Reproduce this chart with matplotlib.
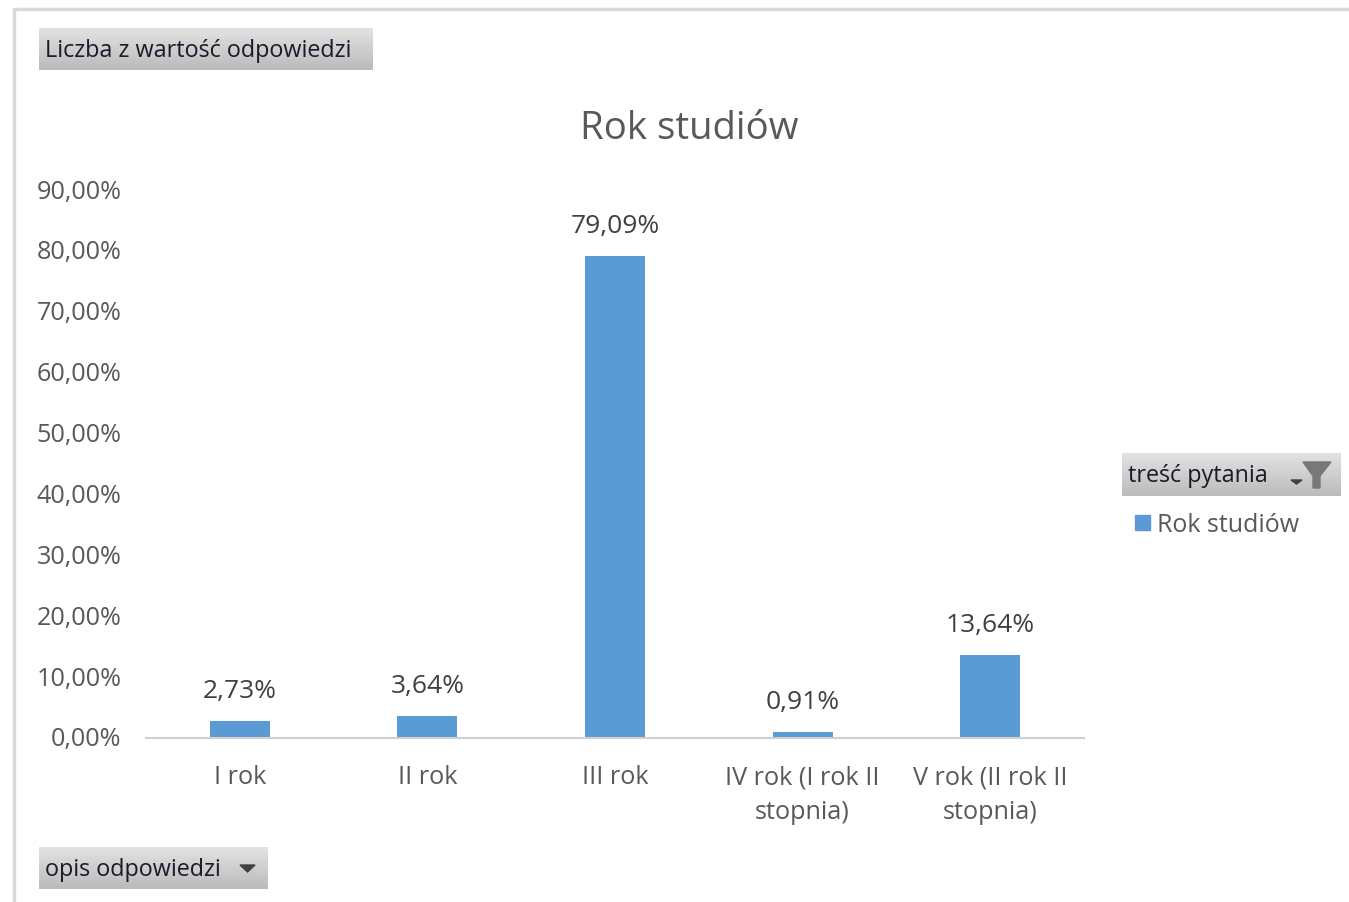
import numpy as np
import matplotlib
matplotlib.use('Agg')
import matplotlib.pyplot as plt
from matplotlib.patches import Rectangle, Polygon
from matplotlib.transforms import ScaledTranslation

plt.rcParams['font.family'] = ['Open Sans', 'DejaVu Sans']

W, H = 1349, 903

categories = ['I rok', 'II rok', 'III rok', 'IV rok (I rok II\nstopnia)', 'V rok (II rok II\nstopnia)']
values = [2.73, 3.64, 79.09, 0.91, 13.64]
value_labels = ['2,73%', '3,64%', '79,09%', '0,91%', '13,64%']
yticks = [0, 10, 20, 30, 40, 50, 60, 70, 80, 90]
ytick_labels = ['0,00%', '10,00%', '20,00%', '30,00%', '40,00%', '50,00%', '60,00%', '70,00%', '80,00%', '90,00%']

blue = '#5B9BD5'
grey = '#595959'

fig = plt.figure(figsize=(W / 100, H / 100), dpi=100, facecolor='white')

# overlay in pixel coords for the pivot buttons and the frame
bg = fig.add_axes([0, 0, 1, 1])
bg.set_xlim(0, W)
bg.set_ylim(H, 0)
bg.axis('off')

bg.plot([14, 14, W], [H, 10, 10], color='#D9D9D9', lw=2.5, solid_capstyle='butt')

grad = np.linspace(0, 1, 64).reshape(-1, 1)
cmap = matplotlib.colors.LinearSegmentedColormap.from_list('btn', ['#E2E2E2', '#BBBBBB'])


def button(x0, y0, x1, y1, txt):
    bg.imshow(grad, cmap=cmap, extent=[x0, x1, y1, y0], aspect='auto', zorder=1)
    bg.text(x0 + 6, (y0 + y1) / 2 + 1, txt, fontsize=16.8, color='#1A1A2A', va='center', ha='left', zorder=3)


button(39, 29, 373, 71, 'Liczba z wartość odpowiedzi')
button(39, 848, 268, 890, 'opis odpowiedzi')
button(1122, 454, 1341, 497, 'treść pytania')
bg.set_xlim(0, W)
bg.set_ylim(H, 0)

# dropdown arrows and filter icon
bg.add_patch(Polygon([[240, 866], [255, 866], [247.5, 873]], color='#404040', zorder=4))
bg.add_patch(Polygon([[1291, 481], [1302, 481], [1296.5, 485]], color='#404040', zorder=4))
bg.add_patch(Polygon([[1303, 463], [1331, 463], [1320, 477], [1320, 489], [1313, 489], [1313, 477]],
                     color='#787878', zorder=4))

# legend marker and text
bg.add_patch(Rectangle((1135, 516), 15, 15, color=blue, zorder=4))
bg.text(1157, 526, 'Rok studiów', fontsize=18, color=grey, va='center', ha='left')

bg.text(689, 129, 'Rok studiów', fontsize=27.6, color=grey, va='center', ha='center')

# main chart
ax = fig.add_axes([146 / W, 1 - 739 / H, (1084 - 146) / W, (739 - 191) / H])
ax.patch.set_alpha(0)
x = np.arange(len(categories))
ax.bar(x, values, width=0.32, color=blue)
ax.set_xlim(-0.5, 4.5)
ax.set_ylim(0, 90)
ax.set_yticks(yticks)
ax.set_yticklabels(ytick_labels, fontsize=18.2, color=grey)
ax.set_xticks(x)
ax.set_xticklabels(categories, fontsize=18.2, color=grey, linespacing=1.5)
ax.tick_params(axis='both', length=0)
ax.tick_params(axis='y', pad=17.5)
ax.tick_params(axis='x', pad=19)
for s in ['top', 'right', 'left']:
    ax.spines[s].set_visible(False)
ax.spines['bottom'].set_color('#D0D0D0')
ax.spines['bottom'].set_linewidth(1.5)

# y labels sit 2px higher than the ticks
up = ScaledTranslation(0, 2 / 100, fig.dpi_scale_trans)
for lab in ax.get_yticklabels():
    lab.set_transform(lab.get_transform() + up)

for i in range(len(values)):
    ax.annotate(value_labels[i], (x[i], values[i]), xytext=(0, 13), textcoords='offset points',
                ha='center', va='bottom', fontsize=19, color='#404040')

fig.savefig('out.png', dpi=100)
